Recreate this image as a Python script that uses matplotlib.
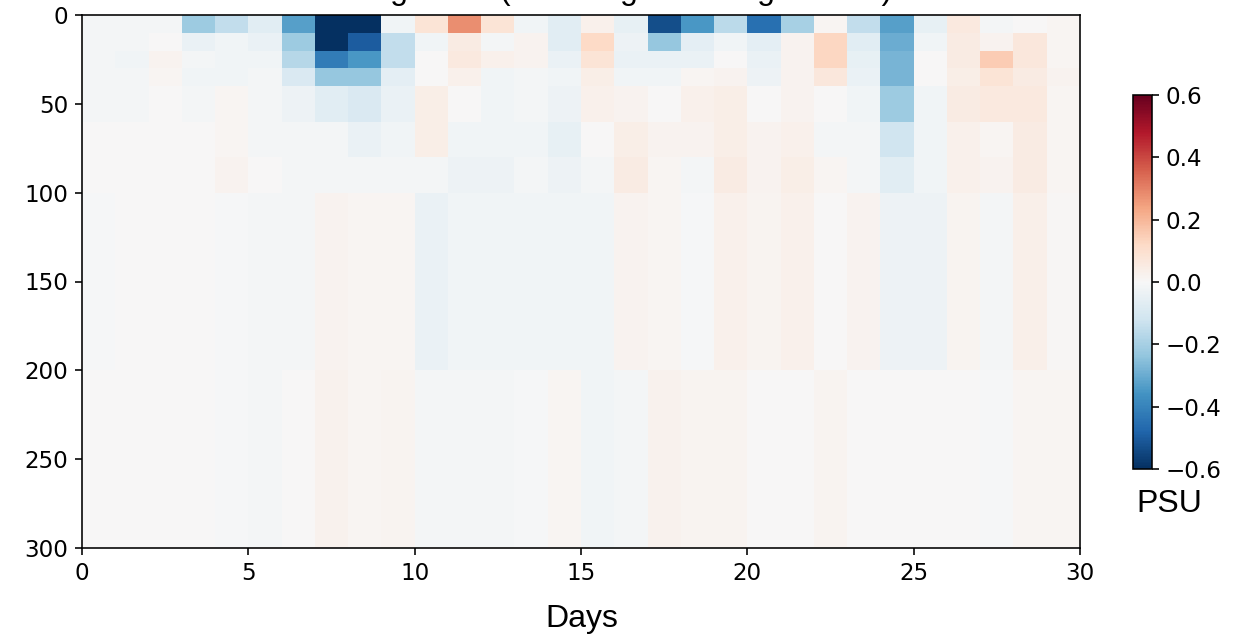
import numpy as np
import matplotlib
matplotlib.use("Agg")
import matplotlib.pyplot as plt

# day edges (30 daily columns) and depth layer edges
day_edges = np.arange(0, 31)
depth_edges = [0, 10, 20, 30, 40, 60, 80, 100, 200, 300]

# salinity anomaly (PSU), one list per depth layer, day 0..29
sal_0_10 = [-0.01, -0.01, -0.01, -0.22, -0.15, -0.07, -0.33, -0.62, -0.62, -0.02,
            0.08, 0.28, 0.08, -0.02, -0.07, 0.03, -0.05, -0.53, -0.35, -0.16,
            -0.45, -0.20, 0.01, -0.15, -0.33, -0.05, 0.06, -0.01, 0.00, 0.01]
sal_10_20 = [-0.01, -0.01, 0.00, -0.04, -0.02, -0.04, -0.22, -0.62, -0.50, -0.15,
             -0.02, 0.05, -0.01, 0.02, -0.07, 0.12, -0.03, -0.23, -0.06, -0.02,
             -0.06, 0.02, 0.13, -0.07, -0.30, -0.02, 0.05, 0.02, 0.07, 0.01]
sal_20_30 = [-0.01, -0.02, 0.02, -0.01, -0.02, -0.02, -0.17, -0.42, -0.35, -0.15,
             0.00, 0.06, 0.03, 0.02, -0.04, 0.08, -0.04, -0.04, -0.04, 0.00,
             -0.04, 0.02, 0.13, -0.05, -0.28, 0.00, 0.05, 0.15, 0.07, 0.01]
sal_30_40 = [-0.01, -0.01, 0.01, -0.02, -0.02, -0.01, -0.09, -0.23, -0.23, -0.06,
             0.00, 0.03, -0.02, -0.01, -0.02, 0.04, -0.02, -0.02, 0.01, 0.02,
             -0.03, 0.02, 0.07, -0.04, -0.28, 0.00, 0.04, 0.08, 0.05, 0.02]
sal_40_60 = [-0.01, -0.01, 0.00, -0.01, 0.01, -0.01, -0.03, -0.07, -0.09, -0.04,
             0.04, 0.00, -0.02, -0.01, -0.03, 0.03, 0.02, 0.00, 0.03, 0.04,
             0.00, 0.02, 0.00, -0.02, -0.22, -0.02, 0.05, 0.06, 0.06, 0.01]
sal_60_80 = [0.00, 0.00, 0.00, 0.00, 0.01, -0.01, -0.01, -0.01, -0.04, -0.02,
             0.04, -0.02, -0.02, -0.02, -0.05, 0.00, 0.04, 0.02, 0.02, 0.04,
             0.02, 0.03, -0.01, -0.01, -0.12, -0.02, 0.03, 0.01, 0.05, 0.01]
sal_80_100 = [0.00, 0.00, 0.00, 0.00, 0.02, 0.00, -0.01, -0.01, -0.01, -0.01,
              -0.01, -0.03, -0.03, -0.01, -0.03, -0.01, 0.05, 0.01, -0.01, 0.05,
              0.02, 0.04, 0.01, -0.01, -0.07, -0.02, 0.03, 0.02, 0.05, 0.01]
sal_100_200 = [-0.005, 0.00, 0.00, 0.00, -0.005, -0.01, -0.01, 0.02, 0.01, 0.01,
               -0.04, -0.02, -0.02, -0.02, -0.02, -0.02, 0.02, 0.01, -0.005, 0.03,
               0.015, 0.03, 0.00, 0.02, -0.03, -0.03, 0.015, -0.01, 0.035, 0.005]
sal_200_300 = [0.00, 0.00, 0.00, 0.00, -0.005, -0.01, 0.00, 0.025, 0.01, 0.015,
               -0.01, -0.01, -0.01, -0.005, 0.01, -0.02, -0.01, 0.025, 0.015, 0.015,
               0.00, 0.00, 0.015, 0.00, 0.00, 0.00, 0.00, -0.005, 0.012, 0.012]

sal = np.array([sal_0_10, sal_10_20, sal_20_30, sal_30_40, sal_40_60,
                sal_60_80, sal_80_100, sal_100_200, sal_200_300])

label_font = "Liberation Sans"
tick_size = 11.5

fig = plt.figure(figsize=(1237 / 144, 635 / 144), dpi=144)
ax = fig.add_axes([82 / 1237, 87 / 635, 998 / 1237, 533 / 635])
mesh = ax.pcolormesh(day_edges, depth_edges, sal, cmap="RdBu_r",
                     vmin=-0.6, vmax=0.6, shading="flat")
ax.set_xlim(0, 30)
ax.set_ylim(300, 0)
ax.set_xticks(np.arange(0, 31, 5))
ax.set_yticks(np.arange(0, 301, 50))
ax.tick_params(labelsize=tick_size)
# title sits mostly above the saved frame, as in the original figure
ax.set_title("Salt Budget Diff (Warming - Cooling Events)",
             fontsize=16, fontname=label_font, pad=8)

fig.text(582 / 1237, (635 - 627) / 635, "Days", ha="center", va="baseline",
         fontsize=16, fontname=label_font)

cax = fig.add_axes([1133 / 1237, (635 - 469) / 635, 18.5 / 1237, 374 / 635])
cb = fig.colorbar(mesh, cax=cax, ticks=np.arange(-0.6, 0.61, 0.2))
cb.ax.tick_params(labelsize=tick_size)
fig.text(1169 / 1237, (635 - 512) / 635, "PSU", ha="center", va="baseline",
         fontsize=16, fontname=label_font)

fig.savefig("out.png", dpi=144)
